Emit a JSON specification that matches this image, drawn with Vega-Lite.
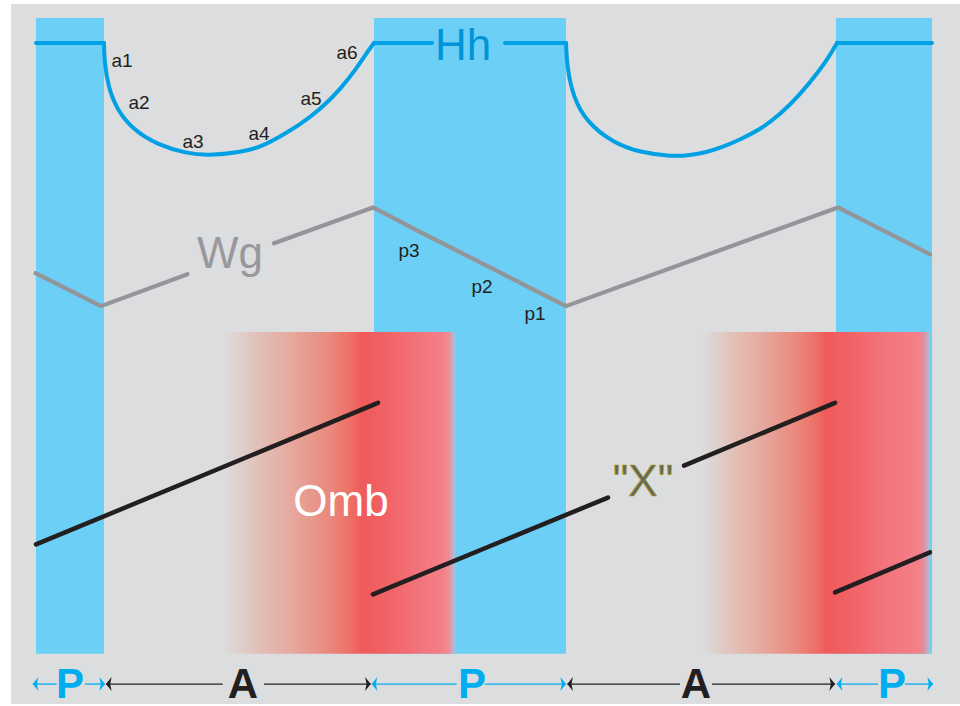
{
  "$schema": "https://vega.github.io/schema/vega-lite/v6.json",
  "width": 960,
  "height": 706,
  "padding": 0,
  "autosize": {"type": "fit", "contains": "padding"},
  "background": "#ffffff",
  "config": {"view": {"stroke": null}},
  "datasets": {
    "bg": [{"x": 1.1, "x2": 96, "y": 0, "y2": 70.2}],
    "bars": [
      {"x": 3.6, "x2": 10.4, "y": 5.05, "y2": 68.8},
      {"x": 37.4, "x2": 56.6, "y": 5.05, "y2": 68.8},
      {"x": 83.6, "x2": 93.2, "y": 5.05, "y2": 68.8}
    ],
    "heat1": [{"x": 22.4, "x2": 45.5, "y": 5.05, "y2": 37.3}],
    "heat2": [{"x": 70.3, "x2": 93.0, "y": 5.05, "y2": 37.3}],
    "hh": [
      {"seg": "f1", "i": 0, "x": 3.6, "y": 66.3},
      {"seg": "f1", "i": 1, "x": 10.4, "y": 66.3},
      {"seg": "c1", "i": 0, "x": 10.4, "y": 66.3},
      {"seg": "c1", "i": 1, "x": 10.43, "y": 64.6},
      {"seg": "c1", "i": 2, "x": 10.8, "y": 61.9},
      {"seg": "c1", "i": 3, "x": 11.7, "y": 59.6},
      {"seg": "c1", "i": 4, "x": 13.3, "y": 57.6},
      {"seg": "c1", "i": 5, "x": 15.7, "y": 56.1},
      {"seg": "c1", "i": 6, "x": 18.7, "y": 55.2},
      {"seg": "c1", "i": 7, "x": 20.8, "y": 55.0},
      {"seg": "c1", "i": 8, "x": 24.0, "y": 55.3},
      {"seg": "c1", "i": 9, "x": 26.2, "y": 55.9},
      {"seg": "c1", "i": 10, "x": 28.0, "y": 56.9},
      {"seg": "c1", "i": 11, "x": 30.0, "y": 58.1},
      {"seg": "c1", "i": 12, "x": 32.0, "y": 59.6},
      {"seg": "c1", "i": 13, "x": 34.0, "y": 61.6},
      {"seg": "c1", "i": 14, "x": 35.7, "y": 63.8},
      {"seg": "c1", "i": 15, "x": 36.6, "y": 65.2},
      {"seg": "c1", "i": 16, "x": 37.4, "y": 66.3},
      {"seg": "f2", "i": 0, "x": 37.4, "y": 66.3},
      {"seg": "f2", "i": 1, "x": 43.2, "y": 66.3},
      {"seg": "f3", "i": 0, "x": 50.5, "y": 66.3},
      {"seg": "f3", "i": 1, "x": 56.6, "y": 66.3},
      {"seg": "c2", "i": 0, "x": 56.6, "y": 66.3},
      {"seg": "c2", "i": 1, "x": 56.7, "y": 63.9},
      {"seg": "c2", "i": 2, "x": 57.3, "y": 60.9},
      {"seg": "c2", "i": 3, "x": 58.7, "y": 58.3},
      {"seg": "c2", "i": 4, "x": 61.3, "y": 56.3},
      {"seg": "c2", "i": 5, "x": 64.0, "y": 55.3},
      {"seg": "c2", "i": 6, "x": 67.2, "y": 54.9},
      {"seg": "c2", "i": 7, "x": 69.0, "y": 55.04},
      {"seg": "c2", "i": 8, "x": 70.6, "y": 55.33},
      {"seg": "c2", "i": 9, "x": 72.2, "y": 55.82},
      {"seg": "c2", "i": 10, "x": 74.0, "y": 56.6},
      {"seg": "c2", "i": 11, "x": 76.0, "y": 57.6},
      {"seg": "c2", "i": 12, "x": 78.0, "y": 59.1},
      {"seg": "c2", "i": 13, "x": 80.0, "y": 61.1},
      {"seg": "c2", "i": 14, "x": 82.0, "y": 63.6},
      {"seg": "c2", "i": 15, "x": 82.9, "y": 64.9},
      {"seg": "c2", "i": 16, "x": 83.7, "y": 66.3},
      {"seg": "f4", "i": 0, "x": 83.7, "y": 66.3},
      {"seg": "f4", "i": 1, "x": 93.2, "y": 66.3}
    ],
    "wg": [
      {"seg": "w1", "i": 0, "x": 3.55, "y": 43.2},
      {"seg": "w1", "i": 1, "x": 10.1, "y": 39.9},
      {"seg": "w1", "i": 2, "x": 18.75, "y": 43.1},
      {"seg": "w2", "i": 0, "x": 27.4, "y": 46.2},
      {"seg": "w2", "i": 1, "x": 37.3, "y": 49.8},
      {"seg": "w2", "i": 2, "x": 41.5, "y": 47.6},
      {"seg": "w2", "i": 3, "x": 49.75, "y": 43.4},
      {"seg": "w2", "i": 4, "x": 56.6, "y": 39.9},
      {"seg": "w2", "i": 5, "x": 83.8, "y": 49.8},
      {"seg": "w2", "i": 6, "x": 93.0, "y": 45.1}
    ],
    "xline": [
      {"seg": "b1", "i": 0, "x": 3.6, "y": 16.0},
      {"seg": "b1", "i": 1, "x": 37.8, "y": 30.2},
      {"seg": "b2", "i": 0, "x": 37.3, "y": 11.0},
      {"seg": "b2", "i": 1, "x": 60.8, "y": 20.7},
      {"seg": "b3", "i": 0, "x": 68.4, "y": 23.9},
      {"seg": "b3", "i": 1, "x": 83.5, "y": 30.2},
      {"seg": "b4", "i": 0, "x": 83.5, "y": 11.2},
      {"seg": "b4", "i": 1, "x": 93.0, "y": 15.2}
    ],
    "small": [
      {"text": "a1", "x": 12.2, "y": 63.9},
      {"text": "a2", "x": 13.9, "y": 59.7},
      {"text": "a3", "x": 19.3, "y": 55.8},
      {"text": "a4", "x": 25.9, "y": 56.6},
      {"text": "a5", "x": 31.1, "y": 60.1},
      {"text": "a6", "x": 34.7, "y": 64.7},
      {"text": "p3", "x": 40.9, "y": 44.8},
      {"text": "p2", "x": 48.2, "y": 41.2},
      {"text": "p1", "x": 53.5, "y": 38.5}
    ],
    "hhLabel": [{"text": "Hh", "x": 46.3, "y": 64.6}],
    "wgLabel": [{"text": "Wg", "x": 23.0, "y": 43.7}],
    "ombLabel": [{"text": "Omb", "x": 34.1, "y": 18.9}],
    "xLabel": [{"text": "\"X\"", "x": 64.3, "y": 20.9}],
    "phases": [
      {"phase": "P", "x": 7.0, "y": 0.6},
      {"phase": "A", "x": 24.3, "y": 0.6},
      {"phase": "P", "x": 47.2, "y": 0.6},
      {"phase": "A", "x": 69.6, "y": 0.6},
      {"phase": "P", "x": 89.2, "y": 0.6}
    ],
    "spans": [
      {"phase": "P", "x": 3.27, "x2": 5.67, "y": 2.0},
      {"phase": "P", "x": 8.5, "x2": 10.5, "y": 2.0},
      {"phase": "A", "x": 10.6, "x2": 22.27, "y": 2.0},
      {"phase": "A", "x": 26.4, "x2": 37.07, "y": 2.0},
      {"phase": "P", "x": 37.17, "x2": 45.67, "y": 2.0},
      {"phase": "P", "x": 48.5, "x2": 56.6, "y": 2.0},
      {"phase": "A", "x": 56.73, "x2": 68.0, "y": 2.0},
      {"phase": "A", "x": 71.2, "x2": 83.5, "y": 2.0},
      {"phase": "P", "x": 83.67, "x2": 87.8, "y": 2.0},
      {"phase": "P", "x": 90.5, "x2": 93.3, "y": 2.0}
    ],
    "heads": [
      {"phase": "P", "dir": "left", "x": 3.27, "y": 2.0},
      {"phase": "P", "dir": "right", "x": 10.5, "y": 2.0},
      {"phase": "A", "dir": "left", "x": 10.6, "y": 2.0},
      {"phase": "A", "dir": "right", "x": 37.07, "y": 2.0},
      {"phase": "P", "dir": "left", "x": 37.17, "y": 2.0},
      {"phase": "P", "dir": "right", "x": 56.6, "y": 2.0},
      {"phase": "A", "dir": "left", "x": 56.73, "y": 2.0},
      {"phase": "A", "dir": "right", "x": 83.5, "y": 2.0},
      {"phase": "P", "dir": "left", "x": 83.67, "y": 2.0},
      {"phase": "P", "dir": "right", "x": 93.3, "y": 2.0}
    ]
  },
  "encoding": {
    "x": {"field": "x", "type": "quantitative", "scale": {"domain": [0, 96], "nice": false, "zero": false}, "axis": null},
    "y": {"field": "y", "type": "quantitative", "scale": {"domain": [0, 70.6], "nice": false, "zero": false}, "axis": null}
  },
  "layer": [
    {
      "data": {"name": "bg"},
      "mark": {"type": "rect", "fill": "#dcdddf"},
      "encoding": {"x2": {"field": "x2"}, "y2": {"field": "y2"}}
    },
    {
      "data": {"name": "bars"},
      "mark": {"type": "rect", "fill": "#6ccff6"},
      "encoding": {"x2": {"field": "x2"}, "y2": {"field": "y2"}}
    },
    {
      "data": {"name": "heat1"},
      "mark": {"type": "rect", "fill": {"gradient": "linear", "x1": 0, "y1": 0, "x2": 1, "y2": 0, "stops": [
        {"offset": 0, "color": "#dcdcdd"},
        {"offset": 0.05, "color": "#ddd3d0"},
        {"offset": 0.15, "color": "#e2c0b8"},
        {"offset": 0.3, "color": "#e6a79c"},
        {"offset": 0.45, "color": "#ea8a7e"},
        {"offset": 0.55, "color": "#ee6e66"},
        {"offset": 0.6, "color": "#f05a5a"},
        {"offset": 0.7, "color": "#f16264"},
        {"offset": 0.85, "color": "#f3747c"},
        {"offset": 0.95, "color": "#f48088"},
        {"offset": 0.975, "color": "#e8909c"},
        {"offset": 1, "color": "#a8c4dc"}
      ]}},
      "encoding": {"x2": {"field": "x2"}, "y2": {"field": "y2"}}
    },
    {
      "data": {"name": "heat2"},
      "mark": {"type": "rect", "fill": {"gradient": "linear", "x1": 0, "y1": 0, "x2": 1, "y2": 0, "stops": [
        {"offset": 0, "color": "#dcdcdd"},
        {"offset": 0.045, "color": "#ddd3d0"},
        {"offset": 0.135, "color": "#e2c0b8"},
        {"offset": 0.27, "color": "#e6a79c"},
        {"offset": 0.405, "color": "#ea8a7e"},
        {"offset": 0.5, "color": "#ee6e66"},
        {"offset": 0.545, "color": "#f05a5a"},
        {"offset": 0.65, "color": "#f16264"},
        {"offset": 0.8, "color": "#f3747c"},
        {"offset": 0.95, "color": "#f48088"},
        {"offset": 0.975, "color": "#e090a0"},
        {"offset": 1, "color": "#a8c4dc"}
      ]}},
      "encoding": {"x2": {"field": "x2"}, "y2": {"field": "y2"}}
    },
    {
      "data": {"name": "hh"},
      "mark": {"type": "line", "color": "#00a1e4", "strokeWidth": 4, "strokeCap": "round", "strokeJoin": "round", "interpolate": "basis"},
      "encoding": {"detail": {"field": "seg"}, "order": {"field": "i", "type": "quantitative"}}
    },
    {
      "data": {"name": "wg"},
      "mark": {"type": "line", "color": "#939598", "strokeWidth": 4.2, "strokeCap": "round", "strokeJoin": "round"},
      "encoding": {"detail": {"field": "seg"}, "order": {"field": "i", "type": "quantitative"}}
    },
    {
      "data": {"name": "xline"},
      "mark": {"type": "line", "color": "#231f20", "strokeWidth": 4.5, "strokeCap": "round"},
      "encoding": {"detail": {"field": "seg"}, "order": {"field": "i", "type": "quantitative"}}
    },
    {
      "data": {"name": "small"},
      "mark": {"type": "text", "font": "Liberation Sans", "fontSize": 19, "color": "#231f20", "align": "center", "baseline": "alphabetic"},
      "encoding": {"text": {"field": "text"}}
    },
    {
      "data": {"name": "hhLabel"},
      "mark": {"type": "text", "font": "Liberation Sans", "fontSize": 44, "color": "#0095d8", "align": "center", "baseline": "alphabetic"},
      "encoding": {"text": {"field": "text"}}
    },
    {
      "data": {"name": "wgLabel"},
      "mark": {"type": "text", "font": "Liberation Sans", "fontSize": 44, "color": "#98989c", "align": "center", "baseline": "alphabetic"},
      "encoding": {"text": {"field": "text"}}
    },
    {
      "data": {"name": "ombLabel"},
      "mark": {"type": "text", "font": "Liberation Sans", "fontSize": 44, "color": "#ffffff", "align": "center", "baseline": "alphabetic"},
      "encoding": {"text": {"field": "text"}}
    },
    {
      "data": {"name": "xLabel"},
      "mark": {"type": "text", "font": "Liberation Sans", "fontSize": 44, "fill": "#67665a", "stroke": "#a8a22a", "strokeWidth": 0.7, "align": "center", "baseline": "alphabetic"},
      "encoding": {"text": {"field": "text"}}
    },
    {
      "data": {"name": "spans"},
      "mark": {"type": "rule", "strokeWidth": 1.3},
      "encoding": {
        "x2": {"field": "x2"},
        "color": {"field": "phase", "type": "nominal", "scale": {"domain": ["P", "A"], "range": ["#00aeef", "#231f20"]}, "legend": null}
      }
    },
    {
      "data": {"name": "heads"},
      "mark": {"type": "point", "filled": true, "opacity": 1, "size": 196},
      "encoding": {
        "shape": {"field": "dir", "type": "nominal", "scale": {"domain": ["left", "right"], "range": ["M0,0L0.8,-1L0.6,0L0.8,1Z", "M0,0L-0.8,-1L-0.6,0L-0.8,1Z"]}, "legend": null},
        "color": {"field": "phase", "type": "nominal", "scale": {"domain": ["P", "A"], "range": ["#00aeef", "#231f20"]}, "legend": null}
      }
    },
    {
      "data": {"name": "phases"},
      "mark": {"type": "text", "font": "Liberation Sans", "fontSize": 42, "fontWeight": "bold", "align": "center", "baseline": "alphabetic"},
      "encoding": {
        "text": {"field": "phase"},
        "color": {"field": "phase", "type": "nominal", "scale": {"domain": ["P", "A"], "range": ["#00aeef", "#231f20"]}, "legend": null}
      }
    }
  ]
}
